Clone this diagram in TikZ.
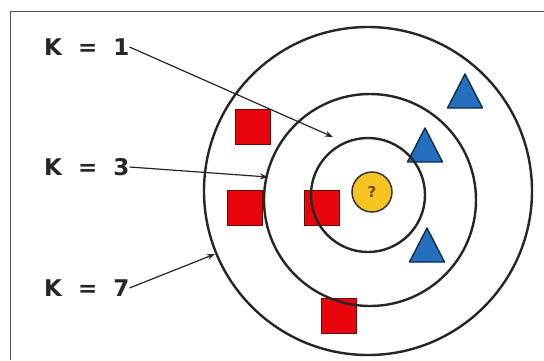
\documentclass[tikz,border=0pt]{standalone}
\usepackage{fontspec}
\newfontfamily\klabfont{DejaVu Sans}[WordSpace=2]
\usetikzlibrary{arrows.meta}
\definecolor{sqred}{HTML}{E8060C}
\definecolor{sqedge}{HTML}{6A0808}
\definecolor{triblue}{HTML}{2470BF}
\definecolor{triedge}{HTML}{0E2A4A}
\definecolor{qyellow}{HTML}{F6C522}
\definecolor{qmark}{HTML}{6B4A12}
\definecolor{framegray}{HTML}{555555}
\begin{document}
\begin{tikzpicture}[x=1pt,y=-1pt,
  ring/.style={line width=2.4pt,black!85},
  sqbox/.style={draw=sqedge,fill=sqred,line width=1.4pt,minimum size=35pt,inner sep=0pt},
  tri/.style={draw=triedge,fill=triblue,line width=1.4pt,line join=round},
  klab/.style={font=\klabfont\bfseries\fontsize{23}{25}\selectfont,text=black!85,inner sep=0pt,anchor=west},
  pointer/.style={line width=1.2pt,black!85,-{Stealth[length=8pt,width=6pt]}}]
\useasboundingbox (0,0) rectangle (544,360);
\fill[white] (0,0) rectangle (544,360);
% frame
\draw[framegray,line width=1pt] (10,360) -- (10,11) -- (544,11);
% training points
\node[sqbox] (s1) at (253,127) {};
\node[sqbox] (s2) at (245,208) {};
\node[sqbox] (s3) at (322,208) {};
\node[sqbox] (s4) at (339,316) {};
\foreach \x/\y in {465/91, 425/145, 427/245}
  \draw[tri] (\x,\y) ++(0,-17) -- ++(17.5,34) -- ++(-35,0) -- cycle;
% neighbourhoods
\draw[ring] (368,195) circle (57);
\draw[ring] (370,200) circle (106);
\draw[ring] (368,191) circle (164);
% query point
\node[circle,draw=black!80,fill=qyellow,line width=1.5pt,minimum size=40pt,inner sep=0pt,
  font=\klabfont\bfseries\fontsize{15}{15}\selectfont,text=qmark] (q) at (372,192) {?};
% labels
\node[klab] (k1) at (44,47) {K = 1};
\node[klab] (k3) at (44,167) {K = 3};
\node[klab] (k7) at (44,288) {K = 7};
\coordinate (p1) at (333,137);
\coordinate (p3) at (268,177);
\coordinate (p7) at (215,254);
\draw[pointer] (k1.east) -- (p1);
\draw[pointer] (k3.east) -- (p3);
\draw[pointer] (k7.east) -- (p7);
\end{tikzpicture}
\end{document}
